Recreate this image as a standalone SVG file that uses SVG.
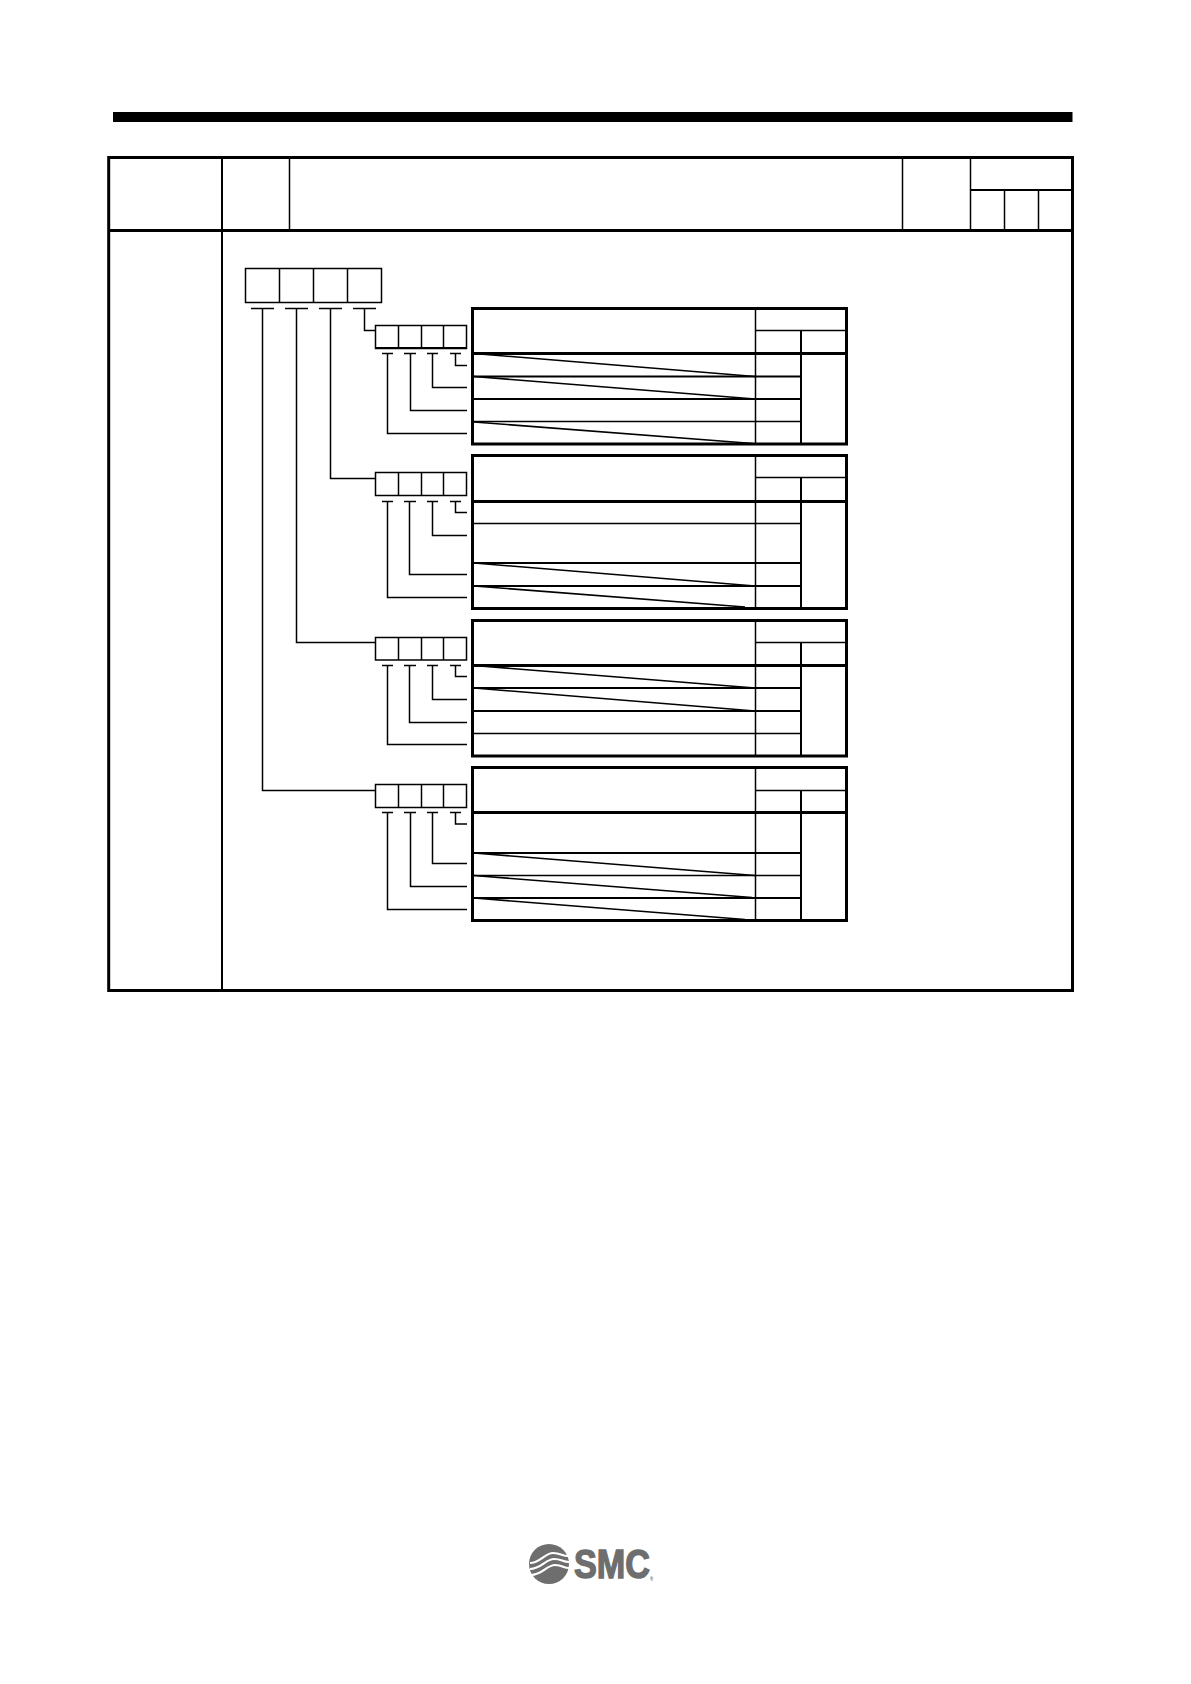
<svg xmlns="http://www.w3.org/2000/svg" width="1191" height="1684" viewBox="0 0 1191 1684">
<style>
.o{fill:none;stroke:#000;stroke-width:3}
.m{fill:none;stroke:#000;stroke-width:2}
.t{fill:none;stroke:#000;stroke-width:1.5}
.d{fill:none;stroke:#000;stroke-width:1.6}
.logo{font-family:"Liberation Sans",Arial,sans-serif;font-weight:700;fill:#6e6e6e}
</style>
<rect width="1191" height="1684" fill="#fff"/>
<rect id="top-bar" x="113" y="112" width="959.5" height="10" fill="#000"/>

<g id="frame">
<rect class="o" x="108.7" y="157.5" width="963.8" height="833"/>
<path class="o" d="M108.7 230.5H1072.5"/>
<path class="m" d="M222 157.5V990.5M970.5 190H1072.5"/>
<path class="t" d="M289.5 157.5V230.5M902.5 157.5V230.5M970.5 157.5V230.5M1004.5 190V230.5M1038.5 190V230.5"/>
</g>

<g id="main-box">
<rect class="t" x="245.5" y="268.5" width="136" height="34"/>
<path class="t" d="M279.5 268.5V302.5M313.5 268.5V302.5M347.5 268.5V302.5"/>
</g>

<g id="selector-1">
<rect class="t" x="375.5" y="325.5" width="91" height="23"/>
<path class="m" d="M375 348H467"/>
<path class="t" d="M398.5 325.5V348M421.5 325.5V348M443.5 325.5V348"/>
</g>
<g id="selector-2">
<rect class="t" x="375.5" y="472.5" width="91" height="23"/>
<path class="t" d="M398.5 472.5V495.5M421.5 472.5V495.5M443.5 472.5V495.5"/>
</g>
<g id="selector-3">
<rect class="t" x="375.5" y="637.5" width="91" height="22.5"/>
<path class="t" d="M398.5 637.5V660M421.5 637.5V660M443.5 637.5V660"/>
</g>
<g id="selector-4">
<rect class="t" x="375.5" y="784.5" width="91" height="23"/>
<path class="t" d="M398.5 784.5V807.5M421.5 784.5V807.5M443.5 784.5V807.5"/>
</g>

<g id="connectors">
<path class="t" d="M251 308.5H274M285 308.5H308M319 308.5H342M353 308.5H376"/>
<path class="t" d="M364.5 308.5V330.5H375.5M330.5 308.5V478.5H375.5M296.5 308.5V642.5H375.5M262.5 308.5V790.5H375.5"/>
<path class="t" d="M382 353.5H393M404 353.5H416M427 353.5H438M450 353.5H461"/>
<path class="t" d="M455.5 353.5V365.5H467M432.5 353.5V387.5H467M410.5 353.5V410.5H467M387.5 353.5V433.5H467"/>
<path class="t" d="M382 501.5H393M404 501.5H416M427 501.5H438M450 501.5H461"/>
<path class="t" d="M455.5 501.5V512.5H467M432.5 501.5V535.5H467M409.5 501.5V574.5H467M387.5 501.5V597.5H467"/>
<path class="t" d="M382 665.5H393M404 665.5H416M427 665.5H438M450 665.5H461"/>
<path class="t" d="M455.5 665.5V676.5H467M432.5 665.5V699.5H467M409.5 665.5V722.5H467M387.5 665.5V744.5H467"/>
<path class="t" d="M382 812.5H393M404 812.5H416M427 812.5H438M450 812.5H461"/>
<path class="t" d="M455.5 812.5V824H467M432.5 812.5V863.5H467M410.5 812.5V886.5H467M387.5 812.5V909.5H467"/>
</g>

<g id="table-1">
<rect class="o" x="472.5" y="308.5" width="374" height="135.5"/>
<path class="o" d="M472.5 353.5H846.5"/>
<path class="m" d="M472.5 376.5H801M472.5 399H801M801 330.5V444"/>
<path class="t" d="M755.5 308.5V444M755.5 330.5H846.5M472.5 421.5H801"/>
<path class="d" d="M474 353.5L755 376.5M474 376.5L755 399M474 422L753 443.5"/>
</g>
<g id="table-2">
<rect class="o" x="472.5" y="455.5" width="374" height="153"/>
<path class="o" d="M472.5 501.5H846.5"/>
<path class="m" d="M472.5 563H801M472.5 586H801M801 477.5V608.5"/>
<path class="t" d="M755.5 455.5V608.5M755.5 477.5H846.5M472.5 523.5H801"/>
<path class="d" d="M474 563L755 586M474 586L745 607"/>
</g>
<g id="table-3">
<rect class="o" x="472.5" y="620.5" width="374" height="135.5"/>
<path class="o" d="M472.5 665.5H846.5"/>
<path class="m" d="M472.5 688H801M472.5 711H801M801 642.5V756"/>
<path class="t" d="M755.5 620.5V756M755.5 642.5H846.5M472.5 733.5H801"/>
<path class="d" d="M474 665.5L755 688M474 688L755 711"/>
</g>
<g id="table-4">
<rect class="o" x="472.5" y="767.5" width="374" height="153"/>
<path class="o" d="M472.5 812.5H846.5"/>
<path class="m" d="M472.5 853H801M472.5 898H801M801 790.5V920.5"/>
<path class="t" d="M755.5 767.5V920.5M755.5 790.5H846.5M472.5 875.5H801"/>
<path class="d" d="M474 853L755 875.5M474 875.5L752 897.5M474 898L745 919.5"/>
</g>

<g id="logo">
<circle cx="549" cy="1564" r="20" fill="#6e6e6e"/>
<g fill="none" stroke="#fff" stroke-width="2.2">
<path d="M530 1563C540 1563 545 1553 553 1553S562 1556 568 1556"/>
<path d="M530 1569C541 1569 546 1559 554 1559S562 1562 569 1562"/>
<path d="M531 1575C542 1575 547 1565 555 1565S563 1568 569 1568"/>
</g>
<text class="logo" transform="translate(574 1578) scale(.855 1)" font-size="40" stroke="#6e6e6e" stroke-width="1.4">SMC<tspan font-size="5" dy="3" stroke="none">®</tspan></text>
</g>
</svg>
